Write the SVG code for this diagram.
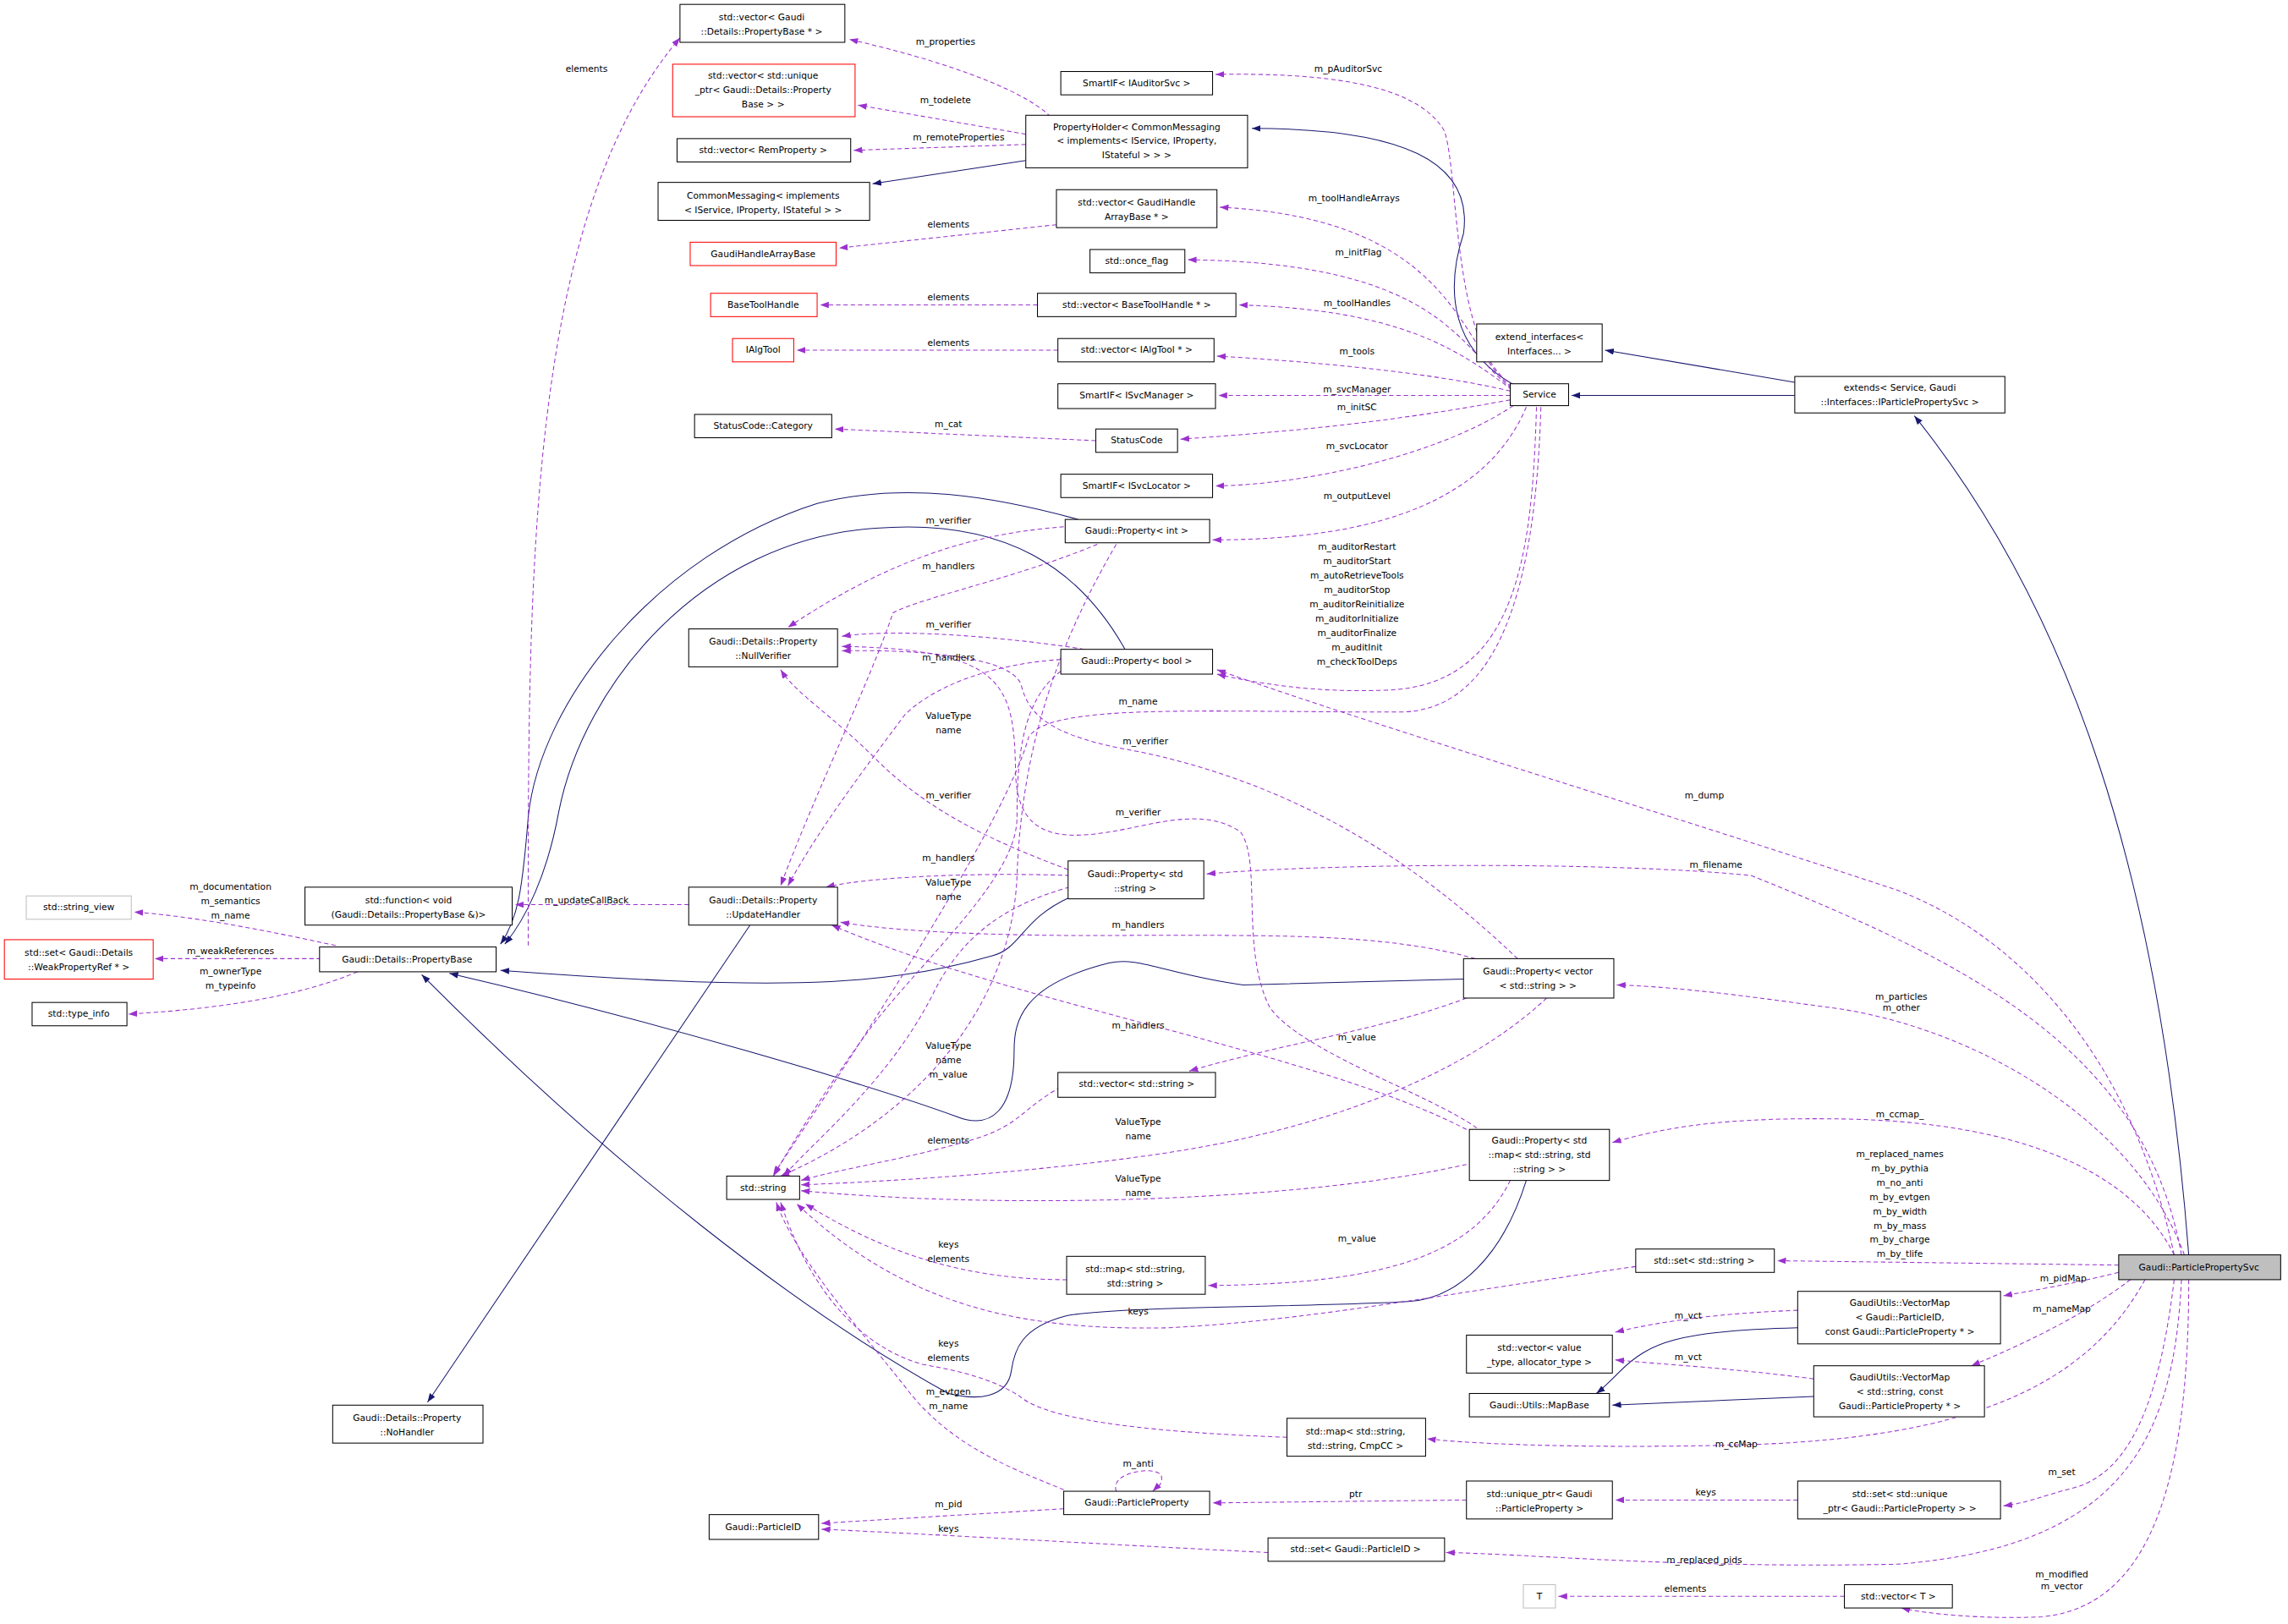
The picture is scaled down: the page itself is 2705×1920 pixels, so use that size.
<svg xmlns="http://www.w3.org/2000/svg" width="2705" height="1920" viewBox="0 0 2705 1920">
<style>
text{font-family:"DejaVu Sans","Liberation Sans",sans-serif;font-size:6.2px;fill:#000}
.n rect{fill:#fff;stroke:#000;stroke-width:0.6}
.r rect{stroke:#f00}
.g rect{stroke:#bfbfbf}
.s rect{fill:#bfbfbf}
.n text,.l{text-anchor:middle}
.i{fill:none;stroke:#191970;stroke-width:0.6}
.d{fill:none;stroke:#9a32cd;stroke-width:0.6;stroke-dasharray:3,2}
</style>
<defs>
<marker id="ai" markerUnits="userSpaceOnUse" markerWidth="7" markerHeight="5" refX="6" refY="2.2" orient="auto"><path d="M0,0 L6,2.2 L0,4.4z" fill="#191970"/></marker>
<marker id="ad" markerUnits="userSpaceOnUse" markerWidth="7" markerHeight="5" refX="6" refY="2.2" orient="auto"><path d="M0,0 L6,2.2 L0,4.4z" fill="#9a32cd"/></marker>
</defs>
<rect width="2705" height="1920" fill="#fff"/>
<g transform="scale(1.7251)">
<g id="edges">
<g marker-end="url(#ai)">
<path class="i" d="M703,110 L598,126"/>
<path class="i" d="M1038,264 C995,240 990,200 1003,160 C1010,110 960,88 858,88"/>
<path class="i" d="M1230,262 L1100,240"/>
<path class="i" d="M1230,271 L1077,271"/>
<path class="i" d="M1500,860 C1480,600 1420,420 1312,285"/>
<path class="i" d="M739,356 C680,340 620,330 560,345 C450,380 370,480 362,560 C358,610 355,630 343,647"/>
<path class="i" d="M771,445 C740,390 690,355 600,362 C480,370 400,470 383,556 C375,600 360,630 346,647"/>
<path class="i" d="M733,615 C700,630 700,650 680,655 C600,678 520,678 343,665"/>
<path class="i" d="M1003,671 L852,675 C800,668 780,655 760,660 C700,675 695,700 695,720 C695,760 680,775 655,765 C600,745 450,700 308,667"/>
<path class="i" d="M1046,809 C1030,860 1000,890 965,892 C900,896 760,895 730,902 C700,910 695,925 693,940 C690,958 670,960 650,955 C550,900 420,800 289,668"/>
<path class="i" d="M514,634 L293,961"/>
<path class="i" d="M1232,910 C1150,912 1130,920 1110,940 C1100,950 1098,952 1094,955"/>
<path class="i" d="M1243,957 L1105,963"/>
</g>
<g marker-end="url(#ad)">
<path class="d" d="M720,80 C700,60 640,40 582,27"/>
<path class="d" d="M703,92 L588,72"/>
<path class="d" d="M703,99 L585,103"/>
<path class="d" d="M362,648 C362,400 360,150 466,26"/>
<path class="d" d="M724,154 L575,170"/>
<path class="d" d="M711,209 L562,209"/>
<path class="d" d="M725,240 L546,240"/>
<path class="d" d="M751,302 L572,294"/>
<path class="d" d="M1037,264 C995,240 1000,120 990,90 C970,55 900,50 833,51"/>
<path class="d" d="M1036,265 C1000,240 1000,150 836,142"/>
<path class="d" d="M1036,266 C1000,240 990,180 814,178"/>
<path class="d" d="M1036,267 C1000,240 960,212 849,209"/>
<path class="d" d="M1035,268 C980,255 900,248 834,244"/>
<path class="d" d="M1035,271 L835,271"/>
<path class="d" d="M1035,274 C950,290 880,296 809,301"/>
<path class="d" d="M1037,278 C990,310 900,332 833,333"/>
<path class="d" d="M1046,279 C1020,340 950,370 831,370"/>
<path class="d" d="M1053,279 C1050,380 1040,470 950,473 C900,475 860,468 834,462"/>
<path class="d" d="M1056,279 C1052,420 1020,487 960,488 C820,488 720,482 705,505 C690,560 600,700 530,805"/>
<path class="d" d="M1490,860 C1460,720 1380,640 1300,610 C1150,560 950,500 834,459"/>
<path class="d" d="M1495,860 C1470,720 1350,660 1200,600 C1100,590 900,592 827,599"/>
<path class="d" d="M1497,860 C1460,760 1340,700 1250,690 C1180,680 1140,676 1108,675"/>
<path class="d" d="M1490,860 C1460,800 1380,770 1270,767 C1180,765 1140,773 1105,783"/>
<path class="d" d="M1452,867 L1218,864"/>
<path class="d" d="M1452,872 C1420,880 1390,885 1373,888"/>
<path class="d" d="M1460,877 C1430,900 1390,920 1351,936"/>
<path class="d" d="M1470,877 C1430,950 1350,985 1200,990 C1100,993 1010,990 978,986"/>
<path class="d" d="M1490,877 C1480,960 1460,1010 1420,1020 C1400,1025 1390,1030 1373,1032"/>
<path class="d" d="M1495,877 C1490,980 1460,1060 1300,1072 C1150,1075 1050,1065 991,1064"/>
<path class="d" d="M1500,877 C1500,1000 1480,1100 1400,1108 C1360,1110 1320,1106 1303,1102"/>
<path class="d" d="M1232,898 C1180,900 1140,905 1107,913"/>
<path class="d" d="M1243,945 C1190,938 1140,935 1107,932"/>
<path class="d" d="M1264,1094 L1068,1094"/>
<path class="d" d="M1232,1028 L1107,1028"/>
<path class="d" d="M1005,1028 L831,1030"/>
<path class="d" d="M729,1034 L563,1044"/>
<path class="d" d="M869,1064 C750,1058 650,1052 563,1048"/>
<path class="d" d="M765,1022 C760,1008 795,1004 796,1012 C797,1018 792,1020 790,1022"/>
<path class="d" d="M729,1021 C690,1005 650,990 620,950 C580,900 545,860 532,824"/>
<path class="d" d="M882,985 C800,982 720,975 699,957 C680,945 660,940 632,935 C580,920 550,870 535,824"/>
<path class="d" d="M1121,868 C1000,885 900,905 800,910 C700,912 620,895 546,825"/>
<path class="d" d="M731,877 C680,877 620,868 552,825"/>
<path class="d" d="M1035,809 C1010,860 950,880 828,881"/>
<path class="d" d="M1005,798 C900,822 700,830 549,816"/>
<path class="d" d="M1060,684 C1000,740 900,775 800,790 C700,805 600,810 549,812"/>
<path class="d" d="M1005,684 C950,705 880,715 815,734"/>
<path class="d" d="M727,745 C700,760 700,770 670,780 C620,795 580,800 549,809"/>
<path class="d" d="M1040,657 C980,600 900,540 780,515 C720,505 705,490 700,470 C695,450 630,445 577,446"/>
<path class="d" d="M1012,773 C980,750 890,720 870,690 C850,650 865,590 850,570 C820,550 780,570 745,572 C710,575 697,560 696,530 C695,470 690,445 577,443"/>
<path class="d" d="M729,361 C680,365 620,376 540,430"/>
<path class="d" d="M752,373 C700,395 630,410 612,420 C595,470 560,540 535,607"/>
<path class="d" d="M765,373 C720,450 700,520 697,600 C694,680 640,760 535,806"/>
<path class="d" d="M743,445 C700,438 620,430 577,436"/>
<path class="d" d="M727,452 C680,455 640,470 620,490 C590,530 560,570 540,607"/>
<path class="d" d="M727,460 C700,480 697,520 697,560 C697,600 640,650 600,700 C570,740 545,780 530,806"/>
<path class="d" d="M732,596 C690,580 640,560 600,520 C570,490 545,475 535,459"/>
<path class="d" d="M733,600 C680,598 600,600 566,608"/>
<path class="d" d="M733,608 C690,620 660,640 640,680 C610,740 560,780 537,806"/>
<path class="d" d="M1011,657 C950,640 880,641 779,641 C680,642 610,638 576,632"/>
<path class="d" d="M1005,774 C900,720 700,690 570,634"/>
<path class="d" d="M230,648 C170,635 130,628 92,625"/>
<path class="d" d="M220,657 L106,657"/>
<path class="d" d="M245,666 C200,685 140,692 88,695"/>
<path class="d" d="M472,620 L353,620"/>
</g>
<g class="lbls">
<text class="l" x="648" y="31">m_properties</text>
<text class="l" x="648" y="71">m_todelete</text>
<text class="l" x="657" y="96">m_remoteProperties</text>
<text class="l" x="402" y="49">elements</text>
<text class="l" x="650" y="156">elements</text>
<text class="l" x="650" y="206">elements</text>
<text class="l" x="650" y="237">elements</text>
<text class="l" x="650" y="293">m_cat</text>
<text class="l" x="924" y="49">m_pAuditorSvc</text>
<text class="l" x="928" y="138">m_toolHandleArrays</text>
<text class="l" x="931" y="175">m_initFlag</text>
<text class="l" x="930" y="210">m_toolHandles</text>
<text class="l" x="930" y="243">m_tools</text>
<text class="l" x="930" y="269">m_svcManager</text>
<text class="l" x="930" y="281">m_initSC</text>
<text class="l" x="930" y="308">m_svcLocator</text>
<text class="l" x="930" y="342">m_outputLevel</text>
<text class="l" x="930" y="377">m_auditorRestart<tspan x="930" dy="9.8">m_auditorStart</tspan><tspan x="930" dy="9.8">m_autoRetrieveTools</tspan><tspan x="930" dy="9.8">m_auditorStop</tspan><tspan x="930" dy="9.8">m_auditorReinitialize</tspan><tspan x="930" dy="9.8">m_auditorInitialize</tspan><tspan x="930" dy="9.8">m_auditorFinalize</tspan><tspan x="930" dy="9.8">m_auditInit</tspan><tspan x="930" dy="9.8">m_checkToolDeps</tspan></text>
<text class="l" x="780" y="483">m_name</text>
<text class="l" x="1168" y="547">m_dump</text>
<text class="l" x="1176" y="595">m_filename</text>
<text class="l" x="1303" y="685">m_particles<tspan x="1303" dy="8">m_other</tspan></text>
<text class="l" x="1302" y="766">m_ccmap_</text>
<text class="l" x="1302" y="793">m_replaced_names<tspan x="1302" dy="9.8">m_by_pythia</tspan><tspan x="1302" dy="9.8">m_no_anti</tspan><tspan x="1302" dy="9.8">m_by_evtgen</tspan><tspan x="1302" dy="9.8">m_by_width</tspan><tspan x="1302" dy="9.8">m_by_mass</tspan><tspan x="1302" dy="9.8">m_by_charge</tspan><tspan x="1302" dy="9.8">m_by_tlife</tspan></text>
<text class="l" x="1414" y="878">m_pidMap</text>
<text class="l" x="1413" y="899">m_nameMap</text>
<text class="l" x="1157" y="904">m_vct</text>
<text class="l" x="1157" y="932">m_vct</text>
<text class="l" x="1190" y="992">m_ccMap</text>
<text class="l" x="1413" y="1011">m_set</text>
<text class="l" x="1168" y="1071">m_replaced_pids</text>
<text class="l" x="1413" y="1081">m_modified<tspan x="1413" dy="8">m_vector</tspan></text>
<text class="l" x="1155" y="1091">elements</text>
<text class="l" x="1169" y="1025">keys</text>
<text class="l" x="929" y="1026">ptr</text>
<text class="l" x="650" y="1033">m_pid</text>
<text class="l" x="650" y="1050">keys</text>
<text class="l" x="780" y="1005">m_anti</text>
<text class="l" x="650" y="956">m_evtgen<tspan x="650" dy="9.8">m_name</tspan></text>
<text class="l" x="650" y="923">keys<tspan x="650" dy="9.8">elements</tspan></text>
<text class="l" x="780" y="901">keys</text>
<text class="l" x="650" y="855">keys<tspan x="650" dy="9.8">elements</tspan></text>
<text class="l" x="930" y="851">m_value</text>
<text class="l" x="780" y="810">ValueType<tspan x="780" dy="9.8">name</tspan></text>
<text class="l" x="780" y="771">ValueType<tspan x="780" dy="9.8">name</tspan></text>
<text class="l" x="930" y="713">m_value</text>
<text class="l" x="650" y="784">elements</text>
<text class="l" x="785" y="510">m_verifier</text>
<text class="l" x="780" y="559">m_verifier</text>
<text class="l" x="650" y="359">m_verifier</text>
<text class="l" x="650" y="390">m_handlers</text>
<text class="l" x="650" y="719">ValueType<tspan x="650" dy="9.8">name</tspan><tspan x="650" dy="9.8">m_value</tspan></text>
<text class="l" x="650" y="430">m_verifier</text>
<text class="l" x="650" y="453">m_handlers</text>
<text class="l" x="650" y="493">ValueType<tspan x="650" dy="9.8">name</tspan></text>
<text class="l" x="650" y="547">m_verifier</text>
<text class="l" x="650" y="590">m_handlers</text>
<text class="l" x="650" y="607">ValueType<tspan x="650" dy="9.8">name</tspan></text>
<text class="l" x="780" y="636">m_handlers</text>
<text class="l" x="780" y="705">m_handlers</text>
<text class="l" x="158" y="610">m_documentation<tspan x="158" dy="9.8">m_semantics</tspan><tspan x="158" dy="9.8">m_name</tspan></text>
<text class="l" x="158" y="654">m_weakReferences</text>
<text class="l" x="158" y="668">m_ownerType<tspan x="158" dy="9.8">m_typeinfo</tspan></text>
<text class="l" x="402" y="619">m_updateCallBack</text>
</g>
</g>
<g id="n1" class="n"><rect x="466" y="3" width="113" height="26"/><text x="522" y="14">std::vector&lt; Gaudi<tspan x="522" dy="9.8">::Details::PropertyBase * &gt;</tspan></text></g>
<g id="n2" class="n r"><rect x="461" y="44" width="125" height="36"/><text x="523" y="54">std::vector&lt; std::unique<tspan x="523" dy="9.8">_ptr&lt; Gaudi::Details::Property</tspan><tspan x="523" dy="9.8">Base &gt; &gt;</tspan></text></g>
<g id="n3" class="n"><rect x="464" y="95" width="119" height="16"/><text x="523" y="105">std::vector&lt; RemProperty &gt;</text></g>
<g id="n4" class="n"><rect x="451" y="125" width="145" height="26"/><text x="523" y="136">CommonMessaging&lt; implements<tspan x="523" dy="9.8">&lt; IService, IProperty, IStateful &gt; &gt;</tspan></text></g>
<g id="n5" class="n"><rect x="703" y="79" width="152" height="36"/><text x="779" y="89">PropertyHolder&lt; CommonMessaging<tspan x="779" dy="9.8">&lt; implements&lt; IService, IProperty,</tspan><tspan x="779" dy="9.8">IStateful &gt; &gt; &gt;</tspan></text></g>
<g id="n6" class="n"><rect x="727" y="49" width="104" height="16"/><text x="779" y="59">SmartIF&lt; IAuditorSvc &gt;</text></g>
<g id="n7" class="n"><rect x="724" y="130" width="110" height="26"/><text x="779" y="141">std::vector&lt; GaudiHandle<tspan x="779" dy="9.8">ArrayBase * &gt;</tspan></text></g>
<g id="n8" class="n r"><rect x="473" y="166" width="100" height="16"/><text x="523" y="176">GaudiHandleArrayBase</text></g>
<g id="n9" class="n"><rect x="747" y="171" width="65" height="16"/><text x="779" y="181">std::once_flag</text></g>
<g id="n10" class="n r"><rect x="487" y="201" width="73" height="16"/><text x="523" y="211">BaseToolHandle</text></g>
<g id="n11" class="n"><rect x="711" y="201" width="136" height="16"/><text x="779" y="211">std::vector&lt; BaseToolHandle * &gt;</text></g>
<g id="n12" class="n r"><rect x="502" y="232" width="42" height="16"/><text x="523" y="242">IAlgTool</text></g>
<g id="n13" class="n"><rect x="725" y="232" width="107" height="16"/><text x="779" y="242">std::vector&lt; IAlgTool * &gt;</text></g>
<g id="n14" class="n"><rect x="725" y="263" width="108" height="17"/><text x="779" y="273">SmartIF&lt; ISvcManager &gt;</text></g>
<g id="n15" class="n"><rect x="476" y="284" width="94" height="16"/><text x="523" y="294">StatusCode::Category</text></g>
<g id="n16" class="n"><rect x="751" y="294" width="56" height="16"/><text x="779" y="304">StatusCode</text></g>
<g id="n17" class="n"><rect x="727" y="325" width="104" height="16"/><text x="779" y="335">SmartIF&lt; ISvcLocator &gt;</text></g>
<g id="n18" class="n"><rect x="730" y="356" width="99" height="16"/><text x="779" y="366">Gaudi::Property&lt; int &gt;</text></g>
<g id="n19" class="n"><rect x="472" y="431" width="102" height="26"/><text x="523" y="442">Gaudi::Details::Property<tspan x="523" dy="9.8">::NullVerifier</tspan></text></g>
<g id="n20" class="n"><rect x="727" y="445" width="104" height="17"/><text x="779" y="455">Gaudi::Property&lt; bool &gt;</text></g>
<g id="n21" class="n"><rect x="1012" y="222" width="86" height="26"/><text x="1055" y="233">extend_interfaces&lt;<tspan x="1055" dy="9.8">Interfaces... &gt;</tspan></text></g>
<g id="n22" class="n"><rect x="1035" y="263" width="40" height="15"/><text x="1055" y="272.5">Service</text></g>
<g id="n23" class="n"><rect x="1230" y="258" width="144" height="25"/><text x="1302" y="268">extends&lt; Service, Gaudi<tspan x="1302" dy="9.8">::Interfaces::IParticlePropertySvc &gt;</tspan></text></g>
<g id="n24" class="n g"><rect x="18" y="614" width="72" height="16"/><text x="54" y="624">std::string_view</text></g>
<g id="n25" class="n r"><rect x="3" y="644" width="102" height="27"/><text x="54" y="655">std::set&lt; Gaudi::Details<tspan x="54" dy="9.8">::WeakPropertyRef * &gt;</tspan></text></g>
<g id="n26" class="n"><rect x="22" y="687" width="65" height="16"/><text x="54" y="697">std::type_info</text></g>
<g id="n27" class="n"><rect x="219" y="649" width="121" height="17"/><text x="279" y="659.5">Gaudi::Details::PropertyBase</text></g>
<g id="n28" class="n"><rect x="209" y="608" width="142" height="26"/><text x="280" y="619">std::function&lt; void<tspan x="280" dy="9.8">(Gaudi::Details::PropertyBase &amp;)&gt;</tspan></text></g>
<g id="n29" class="n"><rect x="472" y="608" width="102" height="26"/><text x="523" y="619">Gaudi::Details::Property<tspan x="523" dy="9.8">::UpdateHandler</tspan></text></g>
<g id="n30" class="n"><rect x="732" y="590" width="93" height="26"/><text x="778" y="601">Gaudi::Property&lt; std<tspan x="778" dy="9.8">::string &gt;</tspan></text></g>
<g id="n31" class="n"><rect x="1003" y="657" width="103" height="27"/><text x="1054" y="668">Gaudi::Property&lt; vector<tspan x="1054" dy="9.8">&lt; std::string &gt; &gt;</tspan></text></g>
<g id="n32" class="n"><rect x="725" y="735" width="108" height="17"/><text x="779" y="745">std::vector&lt; std::string &gt;</text></g>
<g id="n33" class="n"><rect x="498" y="806" width="50" height="16"/><text x="523" y="816">std::string</text></g>
<g id="n34" class="n"><rect x="1007" y="774" width="96" height="35"/><text x="1055" y="784">Gaudi::Property&lt; std<tspan x="1055" dy="9.8">::map&lt; std::string, std</tspan><tspan x="1055" dy="9.8">::string &gt; &gt;</tspan></text></g>
<g id="n35" class="n"><rect x="731" y="861" width="95" height="26"/><text x="778" y="872">std::map&lt; std::string,<tspan x="778" dy="9.8">std::string &gt;</tspan></text></g>
<g id="n36" class="n"><rect x="228" y="963" width="103" height="26"/><text x="279" y="974">Gaudi::Details::Property<tspan x="279" dy="9.8">::NoHandler</tspan></text></g>
<g id="n37" class="n"><rect x="1121" y="856" width="95" height="16"/><text x="1168" y="866">std::set&lt; std::string &gt;</text></g>
<g id="n38" class="n"><rect x="1232" y="885" width="139" height="36"/><text x="1302" y="895">GaudiUtils::VectorMap<tspan x="1302" dy="9.8">&lt; Gaudi::ParticleID,</tspan><tspan x="1302" dy="9.8">const Gaudi::ParticleProperty * &gt;</tspan></text></g>
<g id="n39" class="n"><rect x="1005" y="915" width="100" height="26"/><text x="1055" y="926">std::vector&lt; value<tspan x="1055" dy="9.8">_type, allocator_type &gt;</tspan></text></g>
<g id="n40" class="n"><rect x="1007" y="955" width="96" height="16"/><text x="1055" y="965">Gaudi::Utils::MapBase</text></g>
<g id="n41" class="n"><rect x="1243" y="936" width="117" height="35"/><text x="1302" y="946">GaudiUtils::VectorMap<tspan x="1302" dy="9.8">&lt; std::string, const</tspan><tspan x="1302" dy="9.8">Gaudi::ParticleProperty * &gt;</tspan></text></g>
<g id="n42" class="n s"><rect x="1452" y="860" width="111" height="17"/><text x="1507" y="870.5">Gaudi::ParticlePropertySvc</text></g>
<g id="n43" class="n"><rect x="882" y="972" width="95" height="26"/><text x="929" y="983">std::map&lt; std::string,<tspan x="929" dy="9.8">std::string, CmpCC &gt;</tspan></text></g>
<g id="n44" class="n"><rect x="729" y="1022" width="100" height="16"/><text x="779" y="1032">Gaudi::ParticleProperty</text></g>
<g id="n45" class="n"><rect x="486" y="1038" width="75" height="17"/><text x="523" y="1048.5">Gaudi::ParticleID</text></g>
<g id="n46" class="n"><rect x="869" y="1054" width="121" height="16"/><text x="929" y="1064">std::set&lt; Gaudi::ParticleID &gt;</text></g>
<g id="n47" class="n"><rect x="1005" y="1015" width="100" height="26"/><text x="1055" y="1026">std::unique_ptr&lt; Gaudi<tspan x="1055" dy="9.8">::ParticleProperty &gt;</tspan></text></g>
<g id="n48" class="n"><rect x="1232" y="1015" width="139" height="26"/><text x="1302" y="1026">std::set&lt; std::unique<tspan x="1302" dy="9.8">_ptr&lt; Gaudi::ParticleProperty &gt; &gt;</tspan></text></g>
<g id="n49" class="n g"><rect x="1044" y="1086" width="22" height="16"/><text x="1055" y="1096">T</text></g>
<g id="n50" class="n"><rect x="1264" y="1086" width="74" height="16"/><text x="1301" y="1096">std::vector&lt; T &gt;</text></g>
</g>
</svg>
